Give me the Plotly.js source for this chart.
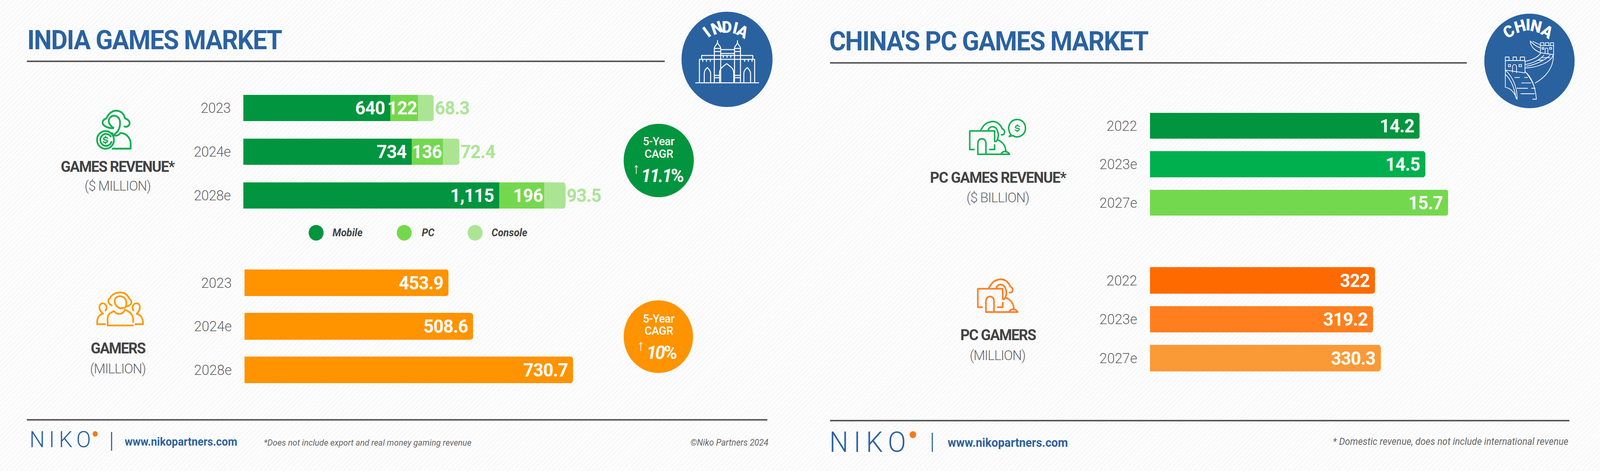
<!DOCTYPE html>
<html>
<head>
<meta charset="utf-8">
<script src="https://cdn.plot.ly/plotly-3.0.1.min.js"></script>
<style>
html,body{margin:0;padding:0;width:100%;height:1206px;overflow:hidden;
 background:repeating-linear-gradient(135deg,#fefefe 0 5px,#f8f8f8 5px 9px);}
#chart{width:4287px;height:1206px;transform-origin:0 0;}
.ytick text{letter-spacing:-0.5px;}
.bartext{letter-spacing:-1px;}
</style>
</head>
<body>
<div id="chart"></div>
<script>
// ---------- data ----------
const indiaYears = ['2023', '2024e', '2028e'];
const revenueMobile = [640, 734, 1115];
const revenuePC = [122, 136, 196];
const revenueConsole = [68.3, 72.4, 93.5];
const gamersIndia = [453.9, 508.6, 730.7];

const chinaYears = ['2022', '2023e', '2027e'];
const pcRevenueChina = [14.2, 14.5, 15.7];
const pcGamersChina = [322, 319.2, 330.3];

const legendNames = ['Mobile', 'PC', 'Console'];
const cagrIndiaRevenue = '11.1';
const cagrIndiaGamers = '10';

// ---------- style ----------
const W = 4287, H = 1206;
// the browser window may be narrower than the design width: fit the whole page into it
document.getElementById('chart').style.transform = 'scaleX(' + Math.min(1, window.innerWidth / W) + ')';
const FONT = 'Roboto, "Noto Sans", sans-serif';
const BLUE = '#2a62a0', GREY = '#666666', DARK = '#434343', RULE = '#5a5a5a';
const GREEN = '#00953e', GREEN2 = '#00b04f', LIME = '#74d84e', PALE = '#abe594';
const ORANGE = '#ff9300', OR1 = '#ff6a00', OR2 = '#ff7f1e', OR3 = '#fa9a37';
const fx = x => x / W, fy = y => 1 - y / H;

function axes(n, x0, x1, top, bot, max) {
  const s = n === 1 ? '' : n;
  return {
    ['xaxis' + s]: {domain: [fx(x0), fx(x1)], range: [0, max], visible: false, fixedrange: true, anchor: 'y' + s},
    ['yaxis' + s]: {domain: [fy(bot), fy(top)], type: 'category', range: [2.5, -0.5], anchor: 'x' + s, fixedrange: true,
      showgrid: false, zeroline: false, showline: false, ticks: '', ticklabelstandoff: 33,
      tickfont: {family: FONT, size: 37, color: GREY, weight: 300}}
  };
}
const fmt = v => v.toLocaleString('en-US');
const PAD = '\u00a0';
function bar(n, y, x, color, width, o) {
  o = o || {};
  const s = n === 1 ? '' : n;
  return {
    type: 'bar', orientation: 'h', y: y, x: x, xaxis: 'x' + s, yaxis: 'y' + s, width: width,
    marker: {color: color, cornerradius: 7, line: {width: 0}},
    text: x.map(v => fmt(v) + (o.pad ? PAD : '')),
    textposition: o.outside ? 'outside' : 'inside',
    insidetextanchor: 'end', textangle: 0, constraintext: 'none', cliponaxis: false,
    textfont: {family: FONT, size: 48, weight: 700, color: o.outside ? PALE : '#ffffff'},
    outsidetextfont: {family: FONT, size: 48, weight: 700, color: PALE},
    hoverinfo: 'skip', showlegend: false
  };
}
const data = [
  bar(1, indiaYears, revenueMobile, GREEN, 0.6, {pad: true}),
  bar(1, indiaYears, revenuePC, LIME, 0.6),
  bar(1, indiaYears, revenueConsole, PALE, 0.6, {outside: true}),
  bar(2, indiaYears, gamersIndia, indiaYears.map(() => ORANGE), 0.61, {pad: true}),
  bar(3, chinaYears, pcRevenueChina, [GREEN, GREEN2, LIME], 0.68, {pad: true}),
  bar(4, chinaYears, pcGamersChina, [OR1, OR2, OR3], 0.68, {pad: true})
];

// ---------- annotations ----------
const annotations = [], css = [];
function T(text, x, y, size, color, o) {
  o = o || {};
  if (o.ls) css.push('.annotation[data-index="' + annotations.length + '"] text{letter-spacing:' + o.ls + 'px;}');
  annotations.push({
    text: text, xref: 'paper', yref: 'paper', x: fx(x), y: fy(y), showarrow: false,
    xanchor: o.anchor || 'center', yanchor: 'middle', textangle: o.angle || 0,
    font: {family: FONT, size: size, color: color, weight: o.weight || 400, style: o.style || 'normal'}
  });
}
// logo wordmarks
T('NIKO', 167, 1125, 58, BLUE, {weight: 300, ls: 11});
T('NIKO', 2331, 1132, 72, BLUE, {weight: 300, ls: 14});
// titles
T('INDIA GAMES MARKET', 413, 103, 68, BLUE, {weight: 700, ls: -2});
T("CHINA'S PC GAMES MARKET", 2649, 106, 68, BLUE, {weight: 700, ls: -2});
// side labels
T('GAMES REVENUE*', 315, 427, 39, DARK, {weight: 700, ls: -1.8});
T('($ MILLION)', 315, 476, 36, GREY, {weight: 300, ls: -1.2});
T('GAMERS', 316, 892, 39, DARK, {weight: 700, ls: -2});
T('(MILLION)', 316, 944, 36, GREY, {weight: 300, ls: -1.4});
T('PC GAMES REVENUE*', 2674, 455, 39, DARK, {weight: 700, ls: -1.5});
T('($ BILLION)', 2673, 506, 36, GREY, {weight: 300, ls: -1.2});
T('PC GAMERS', 2674, 858, 39, DARK, {weight: 700, ls: -1.8});
T('(MILLION)', 2673, 910, 36, GREY, {weight: 300, ls: -1.4});
// legend
const legendX = [889, 1128, 1315];
legendNames.forEach((n, i) => T(n, legendX[i], 596, 27, DARK, {anchor: 'left', weight: 700, style: 'italic'}));
// CAGR bubbles
T('5-Year', 1765, 361, 30, '#fff', {weight: 500, ls: -0.5});
T('CAGR', 1765, 394, 30, '#fff', {weight: 500, ls: -0.5});
T('↑', 1704, 431, 38, '#fff', {weight: 300});
T('<i>' + cagrIndiaRevenue + '</i>%', 1773, 449, 48, '#fff', {weight: 700, ls: -3.5});
T('5-Year', 1765, 815, 30, '#fff', {weight: 500, ls: -0.5});
T('CAGR', 1765, 846, 30, '#fff', {weight: 500, ls: -0.5});
T('↑', 1716, 884, 38, '#fff', {weight: 300});
T('<i>' + cagrIndiaGamers + '</i>%', 1771, 902, 48, '#fff', {weight: 700, ls: -3.5});
// arched badge letters
[['I',1893,82,-38],['N',1921,72,-20],['D',1947,69,0],['I',1970,72,14],['A',1990,80,28]]
  .forEach(a => T(a[0], a[1], a[2], 42, '#fff', {weight: 900, angle: a[3]}));
[['C',4043,81,-33],['H',4073,68,-16],['I',4094,63,0],['N',4116,68,14],['A',4145,81,32]]
  .forEach(a => T(a[0], a[1], a[2], 42, '#fff', {weight: 900, angle: a[3]}));
// footer
T('www.nikopartners.com', 332, 1131, 29, BLUE, {anchor: 'left', weight: 700});
T('www.nikopartners.com', 2537, 1133, 31, BLUE, {anchor: 'left', weight: 700});
T('*Does not include export and real money gaming revenue', 705, 1133, 22.6, GREY, {anchor: 'left', style: 'italic'});
T('©Niko Partners 2024', 2061, 1133, 23, GREY, {anchor: 'right', style: 'italic'});
T('* Domestic revenue, does not include international revenue', 4205, 1130, 25, GREY, {anchor: 'right', style: 'italic'});

// ---------- shapes ----------
const line = (x0, y0, x1, y1, c, w) => ({type: 'line', xref: 'paper', yref: 'paper', layer: 'below',
  x0: fx(x0), x1: fx(x1), y0: fy(y0), y1: fy(y1), line: {color: c, width: w}});
const dot = (cx, cy, r, c) => ({type: 'circle', xref: 'paper', yref: 'paper', layer: 'below',
  x0: fx(cx - r), x1: fx(cx + r), y0: fy(cy + r), y1: fy(cy - r), fillcolor: c, line: {width: 0}});
const shapes = [
  line(72, 157, 1781, 157, RULE, 4), line(2224, 161, 3930, 161, RULE, 4),
  line(72, 1075, 2056, 1075, RULE, 4), line(2224, 1077, 4205, 1077, RULE, 4),
  line(299, 1106, 299, 1154, BLUE, 3), line(2498, 1108, 2498, 1157, BLUE, 3),
  dot(1948, 152, 122, BLUE), dot(4098, 156, 121, BLUE),
  dot(1765, 411, 94, GREEN), dot(1764, 862, 93, ORANGE),
  dot(847, 596, 20, GREEN), dot(1083, 596, 20, LIME), dot(1273, 596, 20, PALE),
  dot(255, 1111, 7, '#f47b20'), dot(2446, 1113, 9, '#f47b20')
];

// ---------- icons (vector pictograms) ----------
function svg(w, h, vw, vh, body, stroke, sw) {
  const s = '<svg xmlns="http://www.w3.org/2000/svg" width="' + w * 2 + '" height="' + h * 2 + '" viewBox="0 0 ' + vw + ' ' + vh +
    '"><g fill="none" stroke="' + stroke + '" stroke-width="' + sw + '" stroke-linecap="round" stroke-linejoin="round">' + body + '</g></svg>';
  return 'data:image/svg+xml;charset=utf-8,' + encodeURIComponent(s);
}
const img = (src, x, y, w, h) => ({source: src, xref: 'paper', yref: 'paper', x: fx(x), y: fy(y),
  sizex: w / W, sizey: h / H, xanchor: 'left', yanchor: 'top', sizing: 'stretch', layer: 'above'});

const DOLLAR = '<path d="M22 -18 C14 -28 -20 -28 -20 -10 C-20 8 22 -6 22 12 C22 30 -14 28 -22 18 M0 -36 L0 -26 M0 26 L0 36"/>';
const headset = '<path d="M610 325 C565 325 520 305 525 278 C530 255 555 250 555 250 C575 205 610 190 632 190 C680 190 700 225 705 250 C745 262 748 290 735 303 C725 315 710 315 700 312"/>' +
  '<path d="M612 322 C575 300 560 262 590 238 C622 215 668 238 665 285 C665 320 650 350 625 368"/>' +
  '<path d="M600 362 C620 392 650 385 668 362 C722 362 750 410 750 440 L750 482 L605 482"/>' +
  '<circle cx="548" cy="415" r="68"/><path d="M590 388 A46 46 0 1 0 596 430"/>' +
  '<g transform="translate(548,415) scale(.75)">' + DOLLAR + '</g>';

const people = '<path d="M250 165 C200 150 190 100 215 80 C250 55 300 80 295 130 C295 158 280 165 258 160"/>' +
  '<path d="M178 140 C150 130 140 100 165 85 C180 50 230 35 270 45 C300 50 315 80 320 90 C345 105 340 135 310 145 L290 150"/>' +
  '<path d="M145 295 L145 240 C145 205 180 192 195 185 C220 215 265 215 285 175 C330 190 350 215 350 250 L350 268"/>' +
  '<path d="M145 295 L350 295"/>' +
  '<path d="M128 180 C150 150 125 125 105 125 C75 125 65 170 108 205 C70 215 60 240 60 285 L125 285"/>' +
  '<path d="M352 180 C335 150 355 125 378 125 C408 125 418 170 378 205 C415 215 430 240 430 285 L368 285"/>';

const pcHead = '<path d="M125 260 L90 260 L90 118 L290 118 L290 198 M250 260 L290 260 L290 225"/>' +
  '<path d="M155 297 L155 215 C155 165 220 165 220 215 L220 297"/>' +
  '<path d="M155 297 L410 297 C395 270 355 268 342 295"/>' +
  '<path d="M240 112 C240 85 290 70 310 110 C330 150 315 185 300 200"/>' +
  '<path d="M180 108 C195 92 205 50 275 45 C320 45 345 85 350 100 C380 115 375 150 345 148"/>' +
  '<path d="M312 185 C350 200 380 230 380 278"/>';
const bubble = '<path d="M462 172 C500 195 560 172 563 118 C565 70 525 45 492 48 C445 50 420 95 430 130 C433 148 440 158 446 166 L432 178 L462 172"/>' +
  '<g transform="translate(497,115) scale(.75)">' + DOLLAR + '</g>';

const WHITE = '#ffffff';
const gateway =
  '<path d="M1 109 L170 109 M11 109 L11 49 L159 49 L159 109 M17 49 L17 39 L154 39 L154 49"/>' +
  '<path d="M51 109 L51 21 M68 109 L68 21 M105 109 L105 21 M121 109 L121 21 M51 21 L68 21 M105 21 L121 21 M68 24 L105 24 M68 34 L105 34 M51 29 L68 29 M105 29 L121 29"/>' +
  '<path d="M51 21 C51 14 59 12 59.5 5 C60 12 68 14 68 21 M105 21 C105 14 113 12 113 5 C113 12 121 14 121 21 M59.5 5 L59.5 1 M113 5 L113 1"/>' +
  '<path d="M65 109 L65 83 C65 72 76 66 84 60 C92 66 103 72 103 83 L103 109"/>' +
  '<path d="M24 109 L24 85 C24 78 28 74 32 70 C36 74 41 78 41 85 L41 109 M130 109 L130 85 C130 78 134 74 139 70 C143 74 148 78 148 85 L148 109"/>' +
  '<path d="M51 90 L65 90 M103 90 L121 90 M51 96 L65 96 M103 96 L121 96"/>' +
  '<path d="M75 44 L75 39 M85 44 L85 39 M95 44 L95 39 M20 54 L20 49 M30 54 L30 49 M40 54 L40 49 M132 54 L132 49 M142 54 L142 49 M152 54 L152 49"/>';

const wall =
  '<path d="M250 405 L250 378 L280 378 L280 405 M312 405 L312 378 L340 378 L340 405 M370 405 L370 378 L405 378 L405 405 L250 405"/>' +
  '<path d="M250 405 L250 610 M408 405 L408 500 L250 478"/>' +
  '<path d="M275 436 L292 436 L292 452 L275 452 Z M360 436 L380 436 L380 452 L360 452 Z"/>' +
  '<path d="M308 495 L308 455 C308 430 340 430 340 455 L340 498"/>' +
  '<path d="M250 478 C320 540 345 620 345 702 M250 510 C300 555 325 630 335 690 M250 610 C300 620 330 660 340 700"/>' +
  '<path d="M408 490 C460 530 490 600 500 702 L470 702 M420 502 C460 550 485 600 492 650"/>' +
  '<path d="M325 535 L365 535 M405 535 L430 535 M380 577 L455 577 M345 618 L430 618 M462 618 L490 618 M375 660 L485 660"/>' +
  '<path d="M410 412 C470 400 520 375 535 345 M412 435 C480 425 530 395 560 365 M412 462 C500 460 620 420 636 360 C640 470 560 540 490 578 M420 448 C480 440 560 410 610 365"/>' +
  '<path d="M510 402 L550 402 M545 383 L610 383"/>' +
  '<path d="M532 290 L532 268 L560 268 L560 290 M572 290 L572 268 L600 268 L600 290 M612 290 L612 268 L638 268 L638 360 M532 290 L638 290 M532 290 L532 345 L636 360"/>' +
  '<path d="M545 305 L560 305 L560 318 L545 318 Z M605 305 L622 305 L622 318 L605 318 Z M570 345 L570 322 C570 305 592 305 592 322 L592 348"/>' +
  '<path d="M450 255 C452 300 490 330 535 345 M450 255 C480 285 505 300 532 308 M470 258 L530 285"/>';

const images = [
  img(svg(171, 112, 171, 112, gateway, WHITE, 2.6), 1863, 103, 171, 112),
  img(svg(290, 270, 870, 810, wall, WHITE, 5.5), 3950, 20, 290, 270),
  img(svg(500, 300, 1500, 900, headset, '#14ae52', 14), 100, 220, 500, 300),
  img(svg(160, 110, 480, 330, people, '#ff9800', 13), 240, 735, 160, 110),
  img(svg(160, 115, 480, 345, pcHead, '#ff7f27', 13), 2590, 700, 160, 115),
  img(svg(220, 120, 660, 360, '<g transform="translate(25,18)">' + pcHead + '</g>' + bubble, '#14ae52', 12), 2560, 290, 220, 120)
];

// ---------- layout ----------
const layout = Object.assign({
  width: W, height: H, margin: {l: 0, r: 0, t: 0, b: 0}, autosize: false,
  paper_bgcolor: 'rgba(0,0,0,0)', plot_bgcolor: 'rgba(0,0,0,0)',
  barmode: 'stack', showlegend: false, font: {family: FONT},
  annotations: annotations, shapes: shapes, images: images
},
  axes(1, 652, 1600, 220.5, 556.5, 948 / 0.6145),
  axes(2, 655, 1600, 668.25, 1002.75, 945 / 1.205),
  axes(3, 3081, 3950, 272.75, 568.25, 869 / 50.9),
  axes(4, 3081, 3950, 668.25, 966.75, 869 / 1.873)
);
const st = document.createElement('style');
st.textContent = css.join('\n');
document.head.appendChild(st);
Plotly.newPlot('chart', data, layout, {displayModeBar: false, staticPlot: true});
</script>
</body>
</html>
